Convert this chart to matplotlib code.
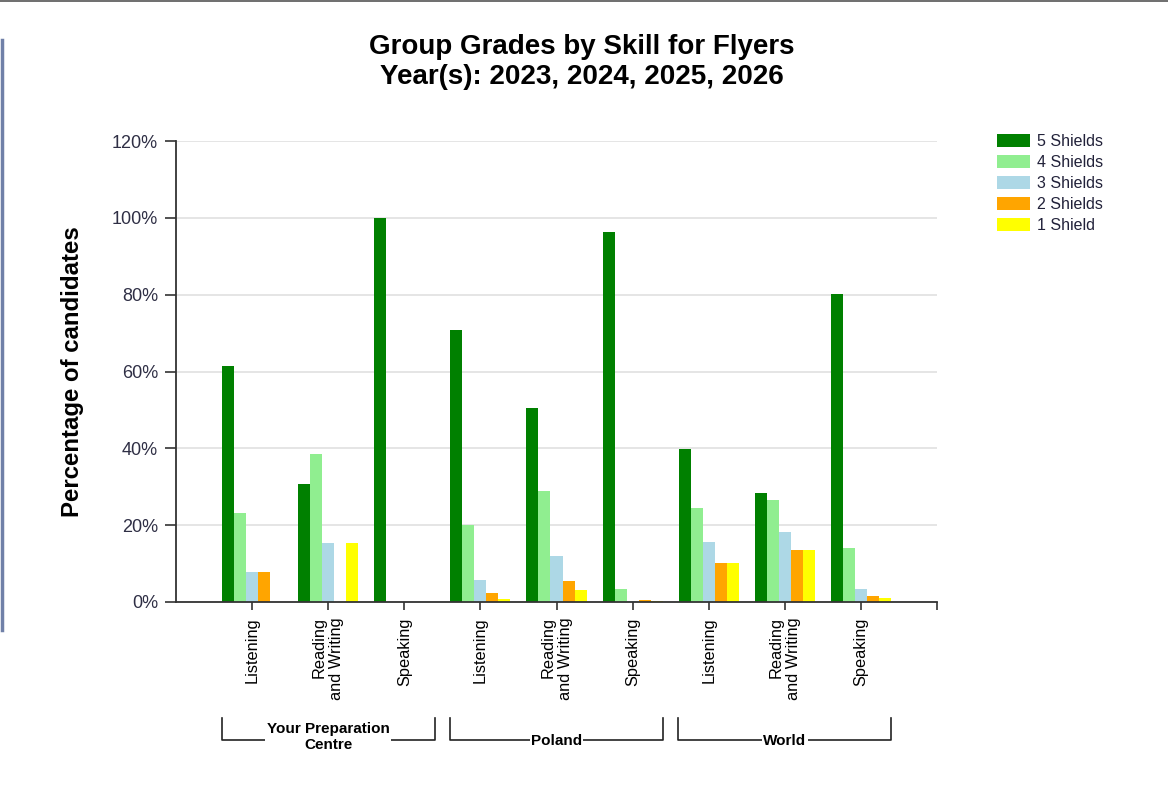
import numpy as np
import matplotlib
matplotlib.use('Agg')
import matplotlib.pyplot as plt
from matplotlib.lines import Line2D

plt.rcParams['font.family'] = ['Liberation Sans', 'DejaVu Sans']

#categories and groups
skills = ['Listening', 'Reading\nand Writing', 'Speaking']
groups = ['Your Preparation\nCentre', 'Poland', 'World']
grades = ['5 Shields', '4 Shields', '3 Shields', '2 Shields', '1 Shield']
colors = ['#008000', '#90EE90', '#ADD8E6', '#FFA500', '#FFFF00']

#percentages per grade, 9 bars each (centre L, R&W, S, Poland L, R&W, S, World L, R&W, S)
five_shields = [61.5, 30.8, 100.0, 70.8, 50.4, 96.3, 39.9, 28.5, 80.2]
four_shields = [23.1, 38.5, 0.0, 20.1, 28.9, 3.4, 24.5, 26.5, 14.0]
three_shields = [7.7, 15.4, 0.0, 5.7, 12.0, 0.3, 15.6, 18.3, 3.4]
two_shields = [7.7, 0.0, 0.0, 2.3, 5.4, 0.4, 10.1, 13.6, 1.6]
one_shield = [0.0, 15.4, 0.0, 0.7, 3.0, 0.3, 10.1, 13.6, 1.0]

series = [five_shields, four_shields, three_shields, two_shields, one_shield]

fig = plt.figure(figsize=(11.68, 7.93), dpi=100)
ax = fig.add_axes([176/1168, 1 - 602/793, 761/1168, 461/793])

x = np.arange(len(five_shields))
w = 0.158
for i, (vals, col, lab) in enumerate(zip(series, colors, grades)):
    ax.bar(x + (i - 2) * w, vals, width=w, color=col, label=lab,
           linewidth=0, zorder=3)

#axes look
tick_col = '#2f2f45'
ax.set_xlim(-1, 9)
ax.set_ylim(0, 120)
ax.set_yticks(range(0, 121, 20))
ax.set_yticklabels([f'{v}%' for v in range(0, 121, 20)], fontsize=13, color=tick_col)
ax.grid(axis='y', color='#e0e0e0', linewidth=1.2, zorder=0)
ax.spines['top'].set_visible(False)
ax.spines['right'].set_visible(False)
for side in ['left', 'bottom']:
    ax.spines[side].set_color('#333333')
    ax.spines[side].set_linewidth(1.3)
    ax.spines[side].set_zorder(5)
ax.tick_params(axis='y', length=8, width=1.2, color='#333333', pad=5)
ax.set_xticks(list(x) + [9])
ax.set_xticklabels(skills * 3 + [''], rotation=90, fontsize=11.8, va='top', ha='center',
                   multialignment='right', linespacing=1.2)
ax.tick_params(axis='x', length=6, width=1.2, color='#333333', pad=5)
ax.set_ylabel('Percentage of candidates', fontsize=17.3, fontweight='bold', labelpad=20)

#titles
fig.text(0.498, 1 - 47/793, 'Group Grades by Skill for Flyers', ha='center', va='center',
         fontsize=20, fontweight='bold')
fig.text(0.498, 1 - 77/793, 'Year(s): 2023, 2024, 2025, 2026', ha='center', va='center',
         fontsize=20, fontweight='bold')

#group brackets below the skill labels
trans = ax.get_xaxis_transform()
y_top = -(718 - 602) / 461
y_bot = -(740 - 602) / 461
for g, name in enumerate(groups):
    x0 = 3 * g - 0.4
    x1 = 3 * g + 2.4
    ax.plot([x0, x0, x1, x1], [y_top, y_bot, y_bot, y_top], color='#222222',
            linewidth=1.2, transform=trans, clip_on=False)
    ax.text((x0 + x1) / 2, y_bot - 0.002 if g else -(737 - 602) / 461, name,
            transform=trans, ha='center', va='center', fontsize=11, fontweight='bold',
            linespacing=1.1, bbox=dict(facecolor='white', edgecolor='none', pad=1.0))

#legend
leg = fig.legend(loc='upper left', bbox_to_anchor=(997/1168, 1 - 134/793), frameon=False,
                 fontsize=11.5, handlelength=2.05, handleheight=0.85, labelspacing=0.38,
                 handletextpad=0.45, borderpad=0, borderaxespad=0)
for t in leg.get_texts():
    t.set_color('#22223a')

#screenshot border left over
fig.add_artist(Line2D([1.5/1168, 1.5/1168], [1 - 630/793, 1 - 40/793], color='#7080a8',
                      linewidth=2.5))
fig.add_artist(Line2D([0, 1], [1 - 1/793, 1 - 1/793], color='#555555', linewidth=1.2))

fig.savefig('out.png', dpi=100)
